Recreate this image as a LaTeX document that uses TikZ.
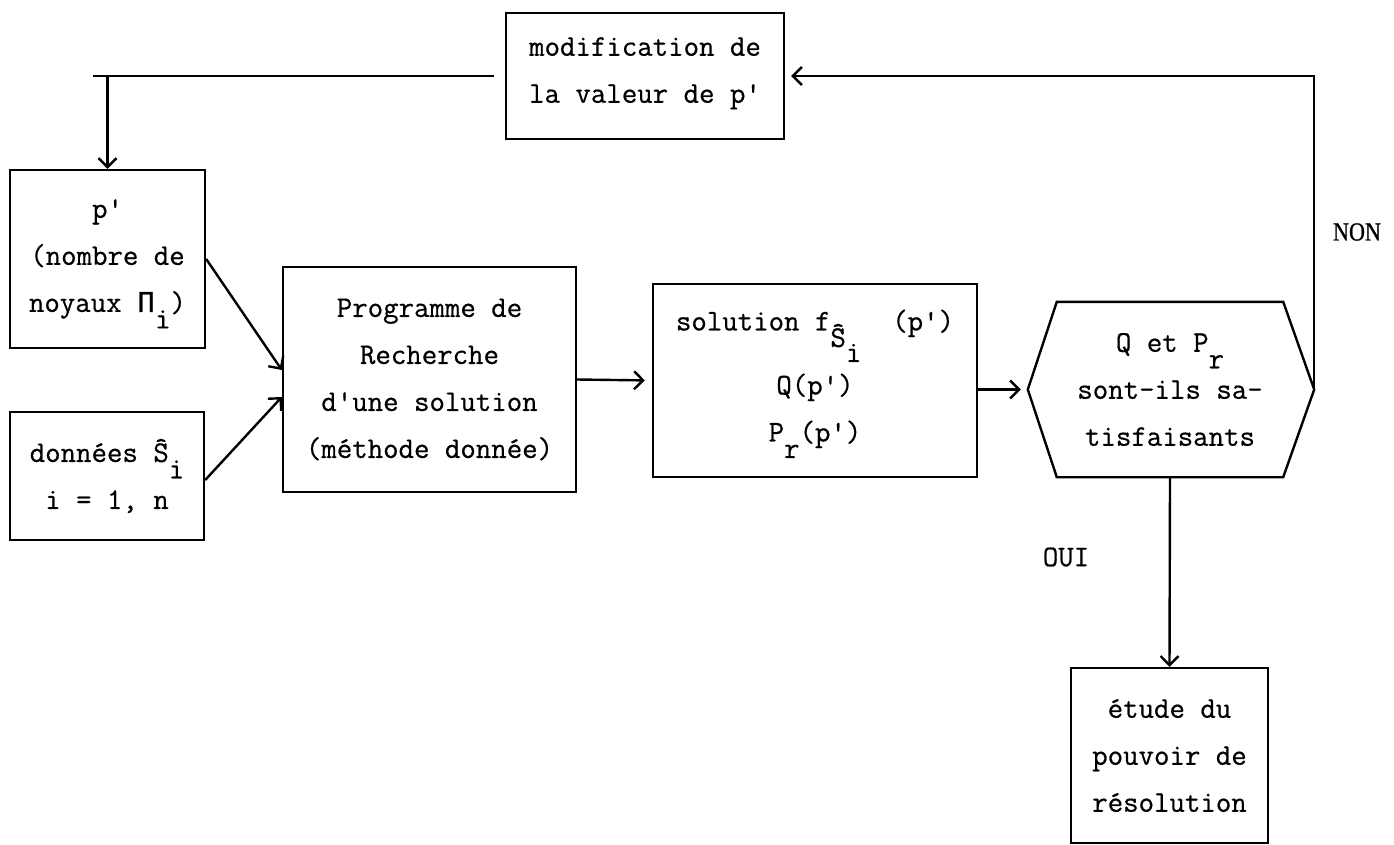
\documentclass[tikz,border=0pt]{standalone}
\usepackage{fontspec}
\newfontfamily\typew{Latin Modern Mono}[FakeBold=0.6]
\newfontfamily\greekmono{Liberation Mono}[FakeBold=0.8]
\newfontfamily\labelserif{Liberation Serif}[FakeBold=1]
\usetikzlibrary{arrows.meta,calc}

% typewriter-style lowered index (same size, no effect on line spacing)
\newcommand\low[1]{\raisebox{-0.55em}[0pt][0pt]{#1}}
\newcommand\lowlow[1]{\raisebox{-1.05em}[0pt][0pt]{#1}}
\newcommand\q{\textquotesingle}

\begin{document}
\begin{tikzpicture}[x=1pt,y=-1pt,
  every node/.style={font=\typew\fontsize{30}{47}\selectfont},
  box/.style={draw, line width=2.4pt, align=center, inner sep=0pt},
  link/.style={line width=2.4pt},
  arr/.style={line width=2.4pt, -{Straight Barb[length=9pt,width=18pt]}},
  tag/.style={font=\labelserif\fontsize{26}{26}\selectfont}]

\fill[white] (0,0) rectangle (1394,845);
\useasboundingbox (0,0) rectangle (1394,845);

% boxes
\node[box, minimum width=278, minimum height=126] (mod) at (645,76)
  {modification de\\la valeur de p\q\rule[-12pt]{0pt}{0pt}};
\node[box, minimum width=195, minimum height=178] (pp) at (107.5,259)
  {p\q\\(nombre de\\noyaux {\greekmono Π}\low{i})};
\node[box, minimum width=194, minimum height=128] (don) at (107,476)
  {données \^S\low{i}\\i = 1, n};
\node[box, minimum width=293, minimum height=225] (prog) at (429.5,379.5)
  {Programme de\\Recherche\\d\q une solution\\(méthode donnée)};
\node[box, minimum width=324, minimum height=193] (sol) at (815,380.5)
  {solution f\low{\^S}\lowlow{i}\ \ (p\q)\\[17pt]Q(p\q)\\P\low{r}(p\q)\rule[-10pt]{0pt}{0pt}};
\node[box, minimum width=197, minimum height=175] (etude) at (1169.5,755.5)
  {étude du\\pouvoir de\\résolution};

% decision hexagon
\node[minimum width=226, minimum height=175, inner sep=0pt, align=center] (hex) at (1170,389.5)
  {Q et P\low{r}\\sont-ils sa-\\tisfaisants};
\coordinate (hexL) at ($(hex.west)+(-29,0)$);
\coordinate (hexR) at ($(hex.east)+(31,0)$);
\draw[line width=2.4pt, line join=miter]
  (hexL) -- (hex.north west) -- (hex.north east) -- (hexR)
  -- (hex.south east) -- (hex.south west) -- cycle;

% connectors
\coordinate (lineend) at (93,76);
\draw[link] ([xshift=-11pt]mod.west) -- (lineend);
\draw[arr] (lineend -| pp.north) -- (pp.north);
\draw[arr] (pp.east) -- ([yshift=9.5pt]prog.west);
\draw[arr] ([yshift=-4pt]don.east) -- ([yshift=-17.5pt]prog.west);
\draw[arr, shorten >=7pt] (prog.east) -- (sol.west);
\draw[arr, shorten >=7pt] (sol.east |- hexL) -- (hexL);
\draw[arr] (hex.south) -- (etude.north);
\draw[arr, shorten >=6pt] (hexR) -- (hexR |- mod.east) -- (mod.east);

% branch labels
\node[tag] (non) at (1357,232) {\scalebox{0.85}[1]{NON}};
\node (oui) at (1066,557) {OUI};
\end{tikzpicture}
\end{document}
